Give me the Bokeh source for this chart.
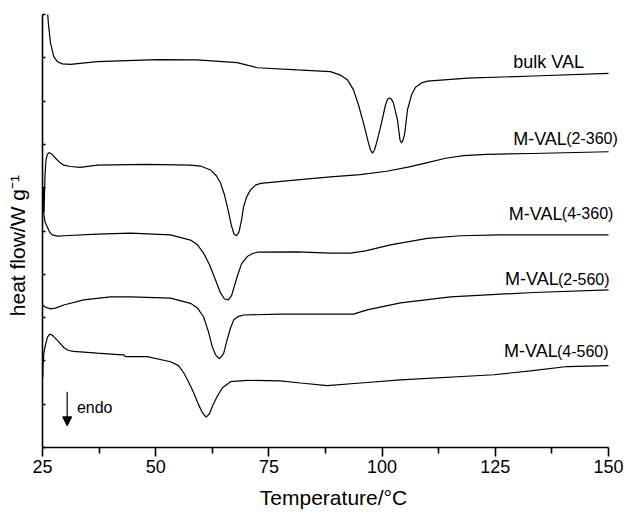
from bokeh.plotting import figure
from bokeh.models import Range1d, Label, Arrow, NormalHead, FixedTicker
from bokeh.embed import file_html
from bokeh.resources import INLINE

# ---------------- data ----------------
x_ticks = [25, 50, 75, 100, 125, 150]
x_minor = [37.5, 62.5, 87.5, 112.5, 137.5]
y_ticks = [0, 1, 2, 3, 4, 5, 6, 7, 8, 9, 10]

t_bulk = [25.99, 26.33, 26.77, 27.50, 28.31, 29.42, 31.18, 37.08, 50.33, 59.17, 68.00,
          72.42, 81.25, 88.60, 90.81, 92.36, 93.68, 94.79, 95.89, 97.00, 97.44, 97.88,
          98.32, 98.76, 99.65, 100.75, 101.19, 101.63, 102.08, 102.52, 103.40, 103.95,
          104.29, 104.61, 104.95, 105.61, 106.49, 107.38, 108.70, 110.03, 118.86, 133.44, 150.0]
hf_bulk = [10.2, 9.76, 9.34, 9.02, 8.91, 8.86, 8.85, 8.91, 8.96, 8.95, 8.89,
           8.77, 8.72, 8.68, 8.60, 8.49, 8.26, 7.91, 7.49, 7.03, 6.87, 6.80,
           6.87, 7.03, 7.40, 7.91, 8.04, 8.07, 8.04, 7.95, 7.56, 7.10,
           7.03, 7.10, 7.22, 7.80, 8.14, 8.32, 8.42, 8.46, 8.53, 8.58, 8.64]

t_2_360 = [25.33, 25.44, 25.55, 25.77, 26.10, 26.55, 27.21, 27.87, 28.75, 29.70, 31.18,
           33.39, 37.08, 48.12, 57.69, 59.89, 62.10, 63.43, 64.31, 65.20, 66.08, 66.74,
           67.29, 67.85, 68.40, 68.95, 69.39, 70.05, 70.94, 72.04, 73.15, 81.25, 88.60,
           95.2, 101.0, 106.0, 110.0, 114.0, 118.0, 123.0, 133.0, 150.0]
hf_2_360 = [5.44, 5.83, 6.29, 6.64, 6.78, 6.81, 6.76, 6.68, 6.59, 6.52, 6.49,
            6.47, 6.52, 6.54, 6.52, 6.50, 6.41, 6.27, 6.11, 5.83, 5.44, 5.12,
            4.93, 4.89, 4.98, 5.25, 5.55, 5.78, 5.95, 6.06, 6.10, 6.18, 6.25,
            6.30, 6.38, 6.48, 6.58, 6.68, 6.74, 6.77, 6.79, 6.83]

t_4_360 = [25.18, 25.29, 25.55, 26.04, 26.55, 27.14, 28.31, 29.70, 37.08, 44.43, 53.27,
           57.69, 59.23, 60.56, 61.88, 63.21, 64.31, 65.20, 66.01, 66.74, 68.00, 68.95,
           70.21, 71.38, 72.42, 81.25, 88.60, 93.02, 96.33, 101.85, 109.96, 117.31, 126.15, 150.0]
hf_4_360 = [5.99, 5.41, 5.21, 5.10, 4.98, 4.91, 4.88, 4.89, 4.93, 4.95, 4.91,
            4.79, 4.68, 4.49, 4.22, 3.87, 3.57, 3.43, 3.41, 3.50, 3.95, 4.24,
            4.41, 4.48, 4.51, 4.52, 4.49, 4.49, 4.54, 4.68, 4.83, 4.89, 4.91, 4.91]

t_2_560 = [25.0, 25.66, 26.77, 27.87, 29.70, 34.12, 40.02, 44.43, 53.27, 57.69, 59.23,
           60.56, 61.66, 62.48, 63.21, 64.09, 64.98, 65.79, 66.52, 67.25, 68.29, 69.46,
           77.56, 88.60, 93.68, 96.71, 104.06, 115.11, 133.44, 150.0]
hf_2_560 = [3.29, 3.24, 3.20, 3.22, 3.29, 3.41, 3.48, 3.48, 3.45, 3.33, 3.22,
            3.02, 2.67, 2.33, 2.14, 2.05, 2.16, 2.49, 2.76, 2.95, 3.03, 3.06,
            3.08, 3.08, 3.08, 3.18, 3.34, 3.48, 3.58, 3.64]

t_4_560 = [25.07, 25.11, 25.33, 25.66, 26.10, 26.61, 27.21, 27.87, 28.75, 29.70, 30.74,
           31.91, 37.08, 42.60, 43.0, 43.22, 48.12, 53.27, 55.04, 56.21, 57.24, 58.41,
           59.45, 60.34, 61.15, 61.88, 62.54, 63.58, 64.75, 66.52, 70.21, 77.56, 81.98,
           87.88, 95.23, 104.06, 124.67, 132.77, 140.88, 150.0]
hf_4_560 = [1.61, 1.91, 2.21, 2.37, 2.55, 2.62, 2.59, 2.52, 2.42, 2.31, 2.24,
            2.22, 2.18, 2.14, 2.14, 2.10, 2.10, 1.98, 1.89, 1.72, 1.52, 1.26,
            0.99, 0.80, 0.70, 0.78, 0.96, 1.18, 1.38, 1.52, 1.55, 1.54, 1.49,
            1.43, 1.49, 1.56, 1.68, 1.77, 1.87, 1.89]

series = [(t_bulk, hf_bulk), (t_2_360, hf_2_360), (t_4_360, hf_4_360),
          (t_2_560, hf_2_560), (t_4_560, hf_4_560)]

label_main = ["bulk VAL", "M-VAL", "M-VAL", "M-VAL", "M-VAL"]
label_sub = ["", "(2-360)", "(4-360)", "(2-560)", "(4-560)"]
label_t = [128.95, 128.95, 127.98, 127.14, 126.92]
label_hf = [8.90, 7.13, 5.40, 3.88, 2.22]

FONT = "Liberation Sans"

# frame extends a little past 150 so the curve labels are not clipped;
# the axis line itself is bounded to 25..150
p = figure(frame_width=582, frame_height=433,
           x_range=Range1d(25, 153.53), y_range=Range1d(0, 10),
           output_backend="svg", toolbar_location=None,
           min_border_left=42, min_border_right=0, min_border_top=14,
           min_border_bottom=20)
p.background_fill_color = "white"
p.border_fill_color = "white"
p.outline_line_color = None
p.xgrid.visible = False
p.ygrid.visible = False

for t, hf in series:
    p.line(t, hf, line_color="black", line_width=1.2)

for txt, sub, tx, hy in zip(label_main, label_sub, label_t, label_hf):
    p.add_layout(Label(x=tx, y=hy, text=txt, text_font=FONT, text_font_size="18px",
                       text_color="black", text_baseline="alphabetic", text_align="left"))
    if sub:
        p.add_layout(Label(x=tx, y=hy, x_offset=53, text=sub, text_font=FONT,
                           text_font_size="16px", text_color="black",
                           text_baseline="alphabetic", text_align="left"))

p.add_layout(Arrow(end=NormalHead(size=9, fill_color="black", line_color="black"),
                   x_start=30.45, y_start=1.29, x_end=30.45, y_end=0.50,
                   line_color="black", line_width=1.2))
p.add_layout(Label(x=32.6, y=0.92, text="endo", text_font=FONT, text_font_size="16px",
                   text_color="black", text_baseline="middle", text_align="left"))

xa = p.xaxis[0]
xa.bounds = (25, 150)
xa.ticker = FixedTicker(ticks=x_ticks, minor_ticks=x_minor)
xa.axis_label = "Temperature/°C"
xa.axis_label_text_font = FONT
xa.axis_label_text_font_size = "21px"
xa.axis_label_text_font_style = "normal"
xa.axis_label_text_color = "black"
xa.axis_label_standoff = 10
xa.major_label_text_font = FONT
xa.major_label_text_font_size = "18px"
xa.major_label_text_color = "black"
xa.major_label_standoff = 3
xa.axis_line_color = "black"
xa.axis_line_width = 1.6
xa.major_tick_line_color = "black"
xa.minor_tick_line_color = "black"
xa.major_tick_line_width = 1.6
xa.minor_tick_line_width = 1.6
xa.major_tick_out = 9
xa.major_tick_in = 0
xa.minor_tick_out = 6
xa.minor_tick_in = 0

ya = p.yaxis[0]
ya.ticker = FixedTicker(ticks=y_ticks, minor_ticks=[])
ya.major_label_overrides = {t: "" for t in y_ticks}
ya.major_label_text_color = None
ya.major_label_standoff = 0
# trailing no-break spaces shift the visible title a little below the frame centre
ya.axis_label = "heat flow/W g⁻¹" + "\u00a0" * 5
ya.axis_label_text_font = FONT
ya.axis_label_text_font_size = "21px"
ya.axis_label_text_font_style = "normal"
ya.axis_label_text_color = "black"
ya.axis_label_standoff = 14
ya.axis_line_color = "black"
ya.axis_line_width = 1.6
ya.major_tick_line_color = "black"
ya.major_tick_line_width = 1.3
ya.major_tick_out = 0
ya.major_tick_in = 3

open("out.html", "w").write(file_html(p, INLINE))
